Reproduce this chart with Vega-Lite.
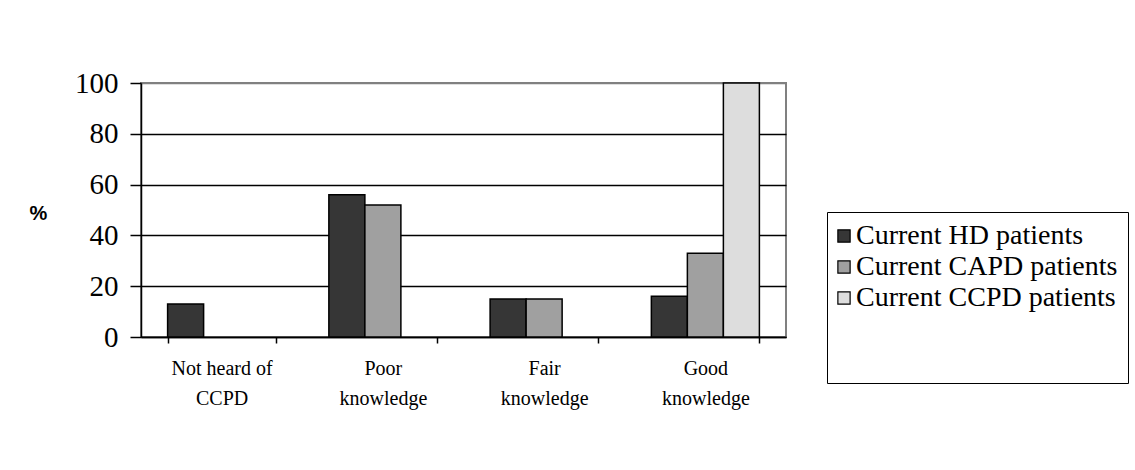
{
  "$schema": "https://vega.github.io/schema/vega-lite/v6.json",
  "autosize": "none",
  "width": 645,
  "height": 254,
  "padding": {"left": 141, "top": 83, "right": 349, "bottom": 133},
  "background": "white",
  "data": {
    "values": [
      {"category": "Not heard of CCPD", "group": "Current HD patients", "value": 13},
      {"category": "Poor knowledge", "group": "Current HD patients", "value": 56},
      {"category": "Poor knowledge", "group": "Current CAPD patients", "value": 52},
      {"category": "Fair knowledge", "group": "Current HD patients", "value": 15},
      {"category": "Fair knowledge", "group": "Current CAPD patients", "value": 15},
      {"category": "Good knowledge", "group": "Current HD patients", "value": 16},
      {"category": "Good knowledge", "group": "Current CAPD patients", "value": 33},
      {"category": "Good knowledge", "group": "Current CCPD patients", "value": 100}
    ]
  },
  "mark": {"type": "bar", "stroke": "black", "strokeWidth": 1.5},
  "encoding": {
    "x": {
      "field": "category",
      "type": "nominal",
      "sort": ["Not heard of CCPD", "Poor knowledge", "Fair knowledge", "Good knowledge"],
      "scale": {"paddingInner": 0.33, "paddingOuter": 0.165},
      "axis": {
        "title": null,
        "labelAngle": 0,
        "labelFont": "Liberation Serif",
        "labelFontSize": 20,
        "labelColor": "black",
        "labelLineHeight": 30,
        "labelBaseline": "top",
        "labelPadding": 15,
        "labelExpr": "datum.label == 'Not heard of CCPD' ? ['Not heard of', 'CCPD'] : split(datum.label, ' ')",
        "tickBand": "extent",
        "tickSize": 6,
        "tickColor": "black",
        "tickWidth": 1.5,
        "domainColor": "black",
        "domainWidth": 1.5,
        "grid": false
      }
    },
    "xOffset": {
      "field": "group",
      "type": "nominal",
      "sort": ["Current HD patients", "Current CAPD patients", "Current CCPD patients"],
      "scale": {"domain": ["Current HD patients", "Current CAPD patients", "Current CCPD patients"], "paddingInner": 0, "paddingOuter": 0}
    },
    "y": {
      "field": "value",
      "type": "quantitative",
      "scale": {"domain": [0, 100], "nice": false},
      "axis": {
        "title": "%",
        "titleAngle": 0,
        "titleFont": "Liberation Sans",
        "titleFontWeight": "bold",
        "titleFontSize": 20,
        "titleColor": "black",
        "titleAlign": "center",
        "titleBaseline": "middle",
        "titleX": -103,
        "titleY": 130,
        "values": [0, 20, 40, 60, 80, 100],
        "labelFont": "Liberation Serif",
        "labelFontSize": 29,
        "labelColor": "black",
        "labelPadding": 12,
        "tickSize": 11,
        "tickColor": "black",
        "tickWidth": 1.5,
        "domainColor": "black",
        "domainWidth": 1.5,
        "grid": true,
        "gridColor": {"condition": {"test": "datum.value === 100", "value": "#808080"}, "value": "black"},
        "gridWidth": 1.5
      }
    },
    "color": {
      "field": "group",
      "type": "nominal",
      "sort": ["Current HD patients", "Current CAPD patients", "Current CCPD patients"],
      "scale": {"domain": ["Current HD patients", "Current CAPD patients", "Current CCPD patients"], "range": ["#363636", "#a0a0a0", "#dddddd"]},
      "legend": {
        "orient": "none",
        "legendX": 686,
        "legendY": 129,
        "title": " ",
        "titleOrient": "bottom",
        "titleFontSize": 20,
        "titlePadding": 41,
        "strokeColor": "black",
        "padding": 10,
        "symbolType": "square",
        "symbolSize": 150,
        "symbolOffset": -7,
        "symbolStrokeColor": "black",
        "symbolStrokeWidth": 1.2,
        "labelFont": "Liberation Serif",
        "labelFontSize": 28,
        "labelColor": "black",
        "labelOffset": -2,
        "labelLimit": 400,
        "rowPadding": 3
      }
    }
  },
  "config": {
    "view": {"stroke": "#808080", "strokeWidth": 2}
  }
}
